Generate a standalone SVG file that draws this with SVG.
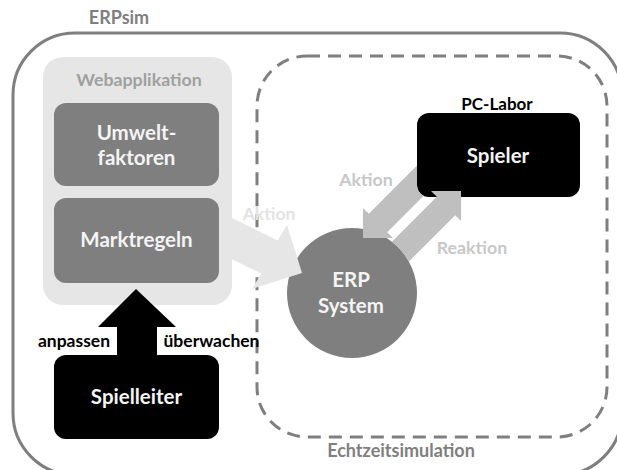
<svg xmlns="http://www.w3.org/2000/svg" width="617" height="470" viewBox="0 0 617 470">
  <style>
    text { font-family: Lato, "Open Sans", "Liberation Sans", sans-serif; font-weight: bold; text-anchor: middle; }
    .frame { fill: none; stroke: #7f7f7f; stroke-width: 3; }
    .dashed { fill: none; stroke: #7f7f7f; stroke-width: 3; stroke-dasharray: 13 8; }
    .caption { font-size: 18px; fill: #7f7f7f; }
    .panel { fill: #e6e6e6; }
    .panel-title { font-size: 17.8px; fill: #a0a0a0; }
    .grey-box { fill: #7f7f7f; }
    .black-box { fill: #000000; }
    .box-text { font-size: 20.5px; fill: #f4f4f4; }
    .black-label { font-size: 17.5px; fill: #000000; }
    .flow { fill: #bfbfbf; }
    .flow-label { font-size: 17.8px; fill: #c8c8c8; }
    .web-flow { fill: #e6e6e6; }
    .web-flow-label { font-size: 17.5px; fill: #e3e3e3; }
  </style>

  <!-- outer frame: ERPsim -->
  <g id="erpsim">
    <rect class="frame" x="13" y="33" width="609" height="442" rx="62" ry="62"/>
    <text class="caption" x="119" y="24">ERPsim</text>
  </g>

  <!-- dashed region: real-time simulation -->
  <g id="echtzeitsimulation">
    <rect class="dashed" x="257" y="56" width="350" height="381" rx="50" ry="50"/>
    <text class="caption" x="401" y="457">Echtzeitsimulation</text>
  </g>

  <!-- web application panel -->
  <g id="webapplikation">
    <rect class="panel" x="43" y="57" width="189" height="248" rx="20" ry="20"/>
    <text class="panel-title" x="139" y="86">Webapplikation</text>
  </g>

  <g id="umweltfaktoren">
    <rect class="grey-box" x="54" y="103" width="165" height="83" rx="12" ry="12"/>
    <text class="box-text" x="136.5" y="140">Umwelt-</text>
    <text class="box-text" x="136.5" y="165">faktoren</text>
  </g>

  <g id="marktregeln">
    <rect class="grey-box" x="54" y="198" width="165" height="85" rx="12" ry="12"/>
    <text class="box-text" x="136.5" y="247">Marktregeln</text>
  </g>

  <g id="erp-system">
    <circle class="grey-box" cx="352" cy="293" r="65"/>
    <text class="box-text" x="351" y="287">ERP</text>
    <text class="box-text" x="351" y="313">System</text>
  </g>

  <g id="spieler">
    <text class="black-label" x="497" y="110" style="font-size:17px">PC-Labor</text>
    <rect class="black-box" x="417" y="113" width="163" height="84" rx="12" ry="12"/>
    <text class="box-text" x="498" y="163">Spieler</text>
  </g>

  <g id="spielleiter">
    <rect class="black-box" x="54" y="355" width="165" height="84" rx="12" ry="12"/>
    <text class="box-text" x="136.5" y="404">Spielleiter</text>
  </g>

  <!-- connectors -->
  <g id="connectors">
    <!-- web application to ERP system -->
    <path class="web-flow" d="M225,214.6 L277.6,240.4 L287,225 L302,273 L252,289 L261.4,273.6 L225,255.8 Z"/>
    <text class="web-flow-label" x="269" y="220">Aktion</text>

    <!-- player action into the ERP system -->
    <path class="flow" d="M417,165.6 L368.8,213.8 L363,208 L363,238 L393,238 L387.2,232.2 L423.65,195.75 A12,12 0 0 1 417,185 Z"/>
    <text class="flow-label" x="366" y="186">Aktion</text>

    <!-- ERP system response back to the player -->
    <path class="flow" d="M391.9,241.7 L436.8,196.8 L431,191 L461,191 L461,221 L455.2,215.2 L408.9,261.5 A65,65 0 0 0 391.9,241.7 Z"/>
    <text class="flow-label" x="472" y="254">Reaktion</text>

    <!-- game master adjusts and monitors the web application -->
    <path class="black-box" d="M136,289 L176,327 L157,327 L157,356 L117,356 L117,327 L98,327 Z"/>
    <text class="black-label" x="74" y="347">anpassen</text>
    <text class="black-label" x="211.5" y="347">überwachen</text>
  </g>
</svg>
